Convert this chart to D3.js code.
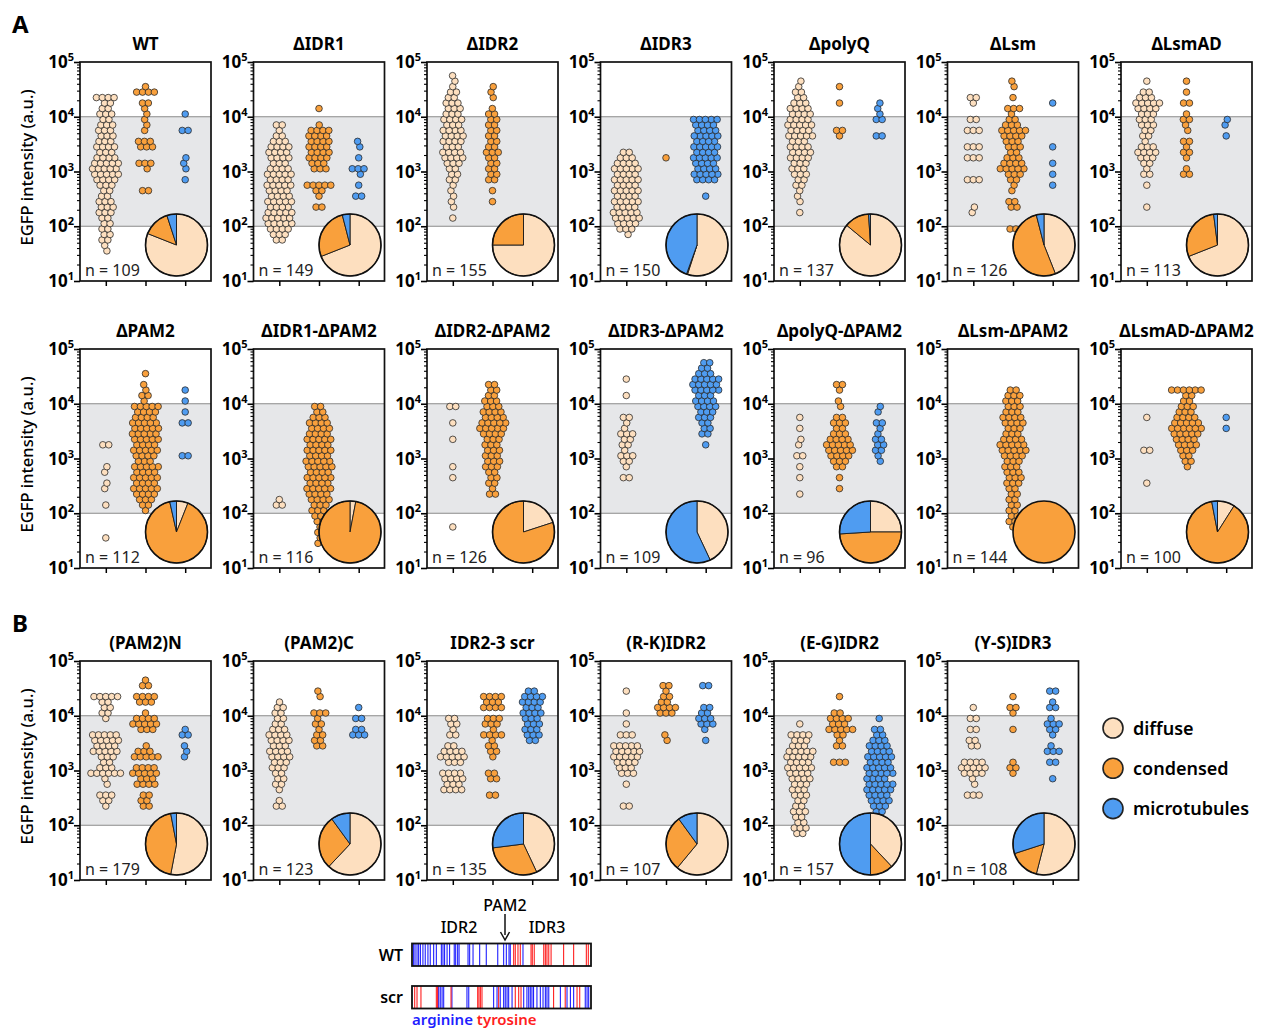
<!DOCTYPE html>
<html>
<head>
<meta charset="utf-8">
<script src="https://cdn.jsdelivr.net/npm/d3@7"></script>
<style>
  body { margin: 0; background: #fff; }
  svg { font-family: "Noto Sans", sans-serif; }
</style>
</head>
<body>
<div id="app"></div>
<script>
// ---- data ----
var panelTitles = ["WT", "ΔIDR1", "ΔIDR2", "ΔIDR3", "ΔpolyQ", "ΔLsm", "ΔLsmAD",
  "ΔPAM2", "ΔIDR1-ΔPAM2", "ΔIDR2-ΔPAM2", "ΔIDR3-ΔPAM2", "ΔpolyQ-ΔPAM2", "ΔLsm-ΔPAM2", "ΔLsmAD-ΔPAM2",
  "(PAM2)N", "(PAM2)C", "IDR2-3 scr", "(R-K)IDR2", "(E-G)IDR2", "(Y-S)IDR3"];
var panelN = [109, 149, 155, 150, 137, 126, 113, 112, 116, 126, 109, 96, 144, 100, 179, 123, 135, 107, 157, 108];

// pie fractions
var pieDiffuse   = [0.81, 0.69, 0.75, 0.55, 0.86, 0.44, 0.69, 0.06, 0.03, 0.20, 0.43, 0.25, 0, 0.09, 0.53, 0.62, 0.43, 0.61, 0.38, 0.54];
var pieCondensed = [0.14, 0.27, 0.25, 0.005, 0.13, 0.52, 0.29, 0.905, 0.97, 0.80, 0, 0.49, 1, 0.88, 0.44, 0.28, 0.30, 0.29, 0.12, 0.16];
var pieMicro     = [0.05, 0.04, 0, 0.445, 0.01, 0.04, 0.02, 0.035, 0, 0, 0.57, 0.26, 0, 0.03, 0.03, 0.10, 0.27, 0.10, 0.50, 0.30];

// dot counts per 0.1-decade bin, 10^1 -> 10^5, one group per decade
var dotsDiffuse = [
  "0000011222 2233322345 5543433332 3224000000",
  "0000000234 5554544545 4344432120 0000000000",
  "0000000000 0101111122 2344344434 3332211100",
  "0000000013 4554545454 5432000000 0000000000",
  "0000000000 0010111223 3344435454 4432211000",
  "0000000000 0011000030 0030300302 0012000000",
  "0000000000 0001000102 1234312233 3453201000",
  "0000010000 0100110110 0020000000 0000000000",
  "0000000000 0210000000 0000000000 0000000000",
  "0000000100 0000001010 0001001002 0000000000",
  "0000000000 0000002012 3122311200 0100100000",
  "0000000000 0001001010 2011010100 0000000000",
  "0000000000 0000000000 0000000000 0000000000",
  "0000000000 0000010000 0200000100 0000000000",
  "0000000000 0001230116 3235455001 2225000000",
  "0000000000 0002101222 3344344322 2210000000",
  "0000000000 0000004344 0354202122 0000000000",
  "0000000000 0002000103 3455503010 1000100000",
  "0000000023 2232233344 5455334010 0000000000",
  "0000000000 0000030114 5400220202 0100000000"
];
var dotsCondensed = [
  "0000000000 0000002000 1300330111 1120410000",
  "0000000000 0002012500 3344444410 0100000000",
  "0000000000 0000101022 2223222222 2101110000",
  "0000000000 0000000000 0010000000 0000000000",
  "0000000000 0000000000 0000001200 0010010000",
  "0000000002 0002201123 5432334532 1301011000",
  "0000000000 0000000002 1012120112 1020101000",
  "0000000000 1234545453 4545555445 1211010000",
  "0000111122 3344545455 4545444322 0000000000",
  "0000000000 0002122233 3333455443 3222000000",
  "0000000000 0000000000 0000000000 0000000000",
  "0000000000 0000101023 4554323201 1012000000",
  "0000000122 2222233333 4554334433 3320000000",
  "0000000000 0000000012 2344565433 2260000000",
  "0000000000 0002220435 4053100354 1034021000",
  "0000000000 0000000000 0000222121 3001100000",
  "0000000000 0000020022 0012214133 0434000000",
  "0000000000 0000000000 0000011000 3422120000",
  "0000000000 0000000000 0300212534 2001000000",
  "0000000000 0000000001 2100000100 1201000000"
];
var dotsMicro = [
  "0000000000 0000000010 1110000200 1000000000",
  "0000000000 0000020101 3010110000 0000000000",
  "0000000000 0000000000 0000000000 0000000000",
  "0000000000 0000010045 4454545445 0000000000",
  "0000000000 0000000000 0000002002 1110000000",
  "0000000000 0000000101 0100100000 0010000000",
  "0000000000 0000000000 0000001011 0000000000",
  "0000000000 0000000000 2000002010 1010000000",
  "0000000000 0000000000 0000000000 0000000000",
  "0000000000 0000000000 0000000000 0000000000",
  "0000000000 0000000000 0010222334 4355532200",
  "0000000000 0000000001 1222112011 0000000000",
  "0000000000 0000000000 0000000000 0000000000",
  "0000000000 0000000000 0000010100 0000000000",
  "0000000000 0000000000 0011102100 0000000000",
  "0000000000 0000000000 0000003202 0100000000",
  "0000000000 0000000000 0000023333 4344200000",
  "0000000000 0000000000 0000010133 2200020000",
  "0000000000 0023445545 5454432201 0000000000",
  "0000000000 0000000010 0203101231 0210200000"
];

var categories = ["diffuse", "condensed", "microtubules"];
var yTicks = [1e1, 1e2, 1e3, 1e4, 1e5];

// residue positions along the IDR2-3 stretch (% of bar length)
var wtArginine  = [0.9, 1.7, 2.8, 3.7, 4.7, 6.1, 7.4, 8.9, 10.2, 12.1, 13.6, 16.4, 17.3, 18.2, 19.6, 21.0, 23.6, 24.4, 25.5, 26.3, 31.3, 32.2, 34.1, 37.8, 41.5, 47.9, 51.2, 52.7, 54.2, 54.9, 62.0];
var wtTyrosine  = [56.8, 57.7, 59.2, 60.5, 66.5, 67.2, 68.3, 73.6, 74.5, 75.4, 76.4, 77.7, 84.7, 90.3, 97.4, 98.5];
var scrArginine = [14.9, 15.8, 16.8, 17.7, 22.3, 30.7, 31.7, 45.6, 47.5, 49.3, 51.2, 52.1, 53.1, 54.0, 55.9, 62.4, 64.2, 65.2, 66.1, 67.0, 67.9, 69.8, 71.7, 73.2, 74.5, 75.4, 76.4, 82.9, 86.6, 88.5, 90.3, 96.8, 97.8, 98.7];
var scrTyrosine = [1.5, 2.8, 5.0, 13.6, 14.3, 21.8, 36.7, 37.4, 38.2, 39.1, 48.4, 57.7, 59.6, 60.9, 79.1, 85.6, 92.2, 93.7];

// ---- layout ----
var width = 1261, height = 1030;
var colors = { diffuse: "#fddfbf", condensed: "#f9a03c", microtubules: "#4f9cf1" };
var rowTops = [62, 349, 661];
var panelW = 131, panelH = 219, panelX0 = 80, panelStep = 173.5;
var dotR = 3.3, pieR = 31;

var svg = d3.select("#app").append("svg")
  .attr("width", width)
  .attr("height", height);

svg.append("text").attr("x", 12).attr("y", 33)
  .style("font-size", "24px").style("font-weight", "bold").text("A");
svg.append("text").attr("x", 12).attr("y", 632)
  .style("font-size", "24px").style("font-weight", "bold").text("B");

// turn a bin string into a list of values
function binValues(str) {
  var counts = str.replace(/\s/g, "").split("").map(c => parseInt(c, 36));
  var out = [];
  counts.forEach((m, k) => {
    for (var j = 0; j < m; j++) out.push({ value: Math.pow(10, 1.05 + 0.1 * k), j: j, m: m });
  });
  return out;
}

var y = d3.scaleLog().domain([10, 1e5]).range([panelH, 0]);
var x = d3.scalePoint().domain(categories).range([0, panelW]).padding(0.65);

panelTitles.forEach((title, i) => {
  var row = i < 7 ? 0 : (i < 14 ? 1 : 2);
  var col = i - [0, 7, 14][row];
  var g = svg.append("g")
    .attr("transform", "translate(" + (panelX0 + col * panelStep) + "," + rowTops[row] + ")");

  // gray band between 10^2 and 10^4
  g.append("rect")
    .attr("x", 0).attr("y", y(1e4))
    .attr("width", panelW).attr("height", y(1e2) - y(1e4))
    .attr("fill", "#e6e7e9");
  [1e2, 1e4].forEach(v => {
    g.append("line")
      .attr("x1", 0).attr("x2", panelW)
      .attr("y1", y(v)).attr("y2", y(v))
      .attr("stroke", "#8a8a8a").attr("stroke-width", 1.2);
  });

  // dots, swarmed with a force simulation (neighbouring rows stagger)
  var nodes = [];
  [[dotsDiffuse, "diffuse"], [dotsCondensed, "condensed"], [dotsMicro, "microtubules"]].forEach(pair => {
    binValues(pair[0][i]).forEach(d => {
      nodes.push({
        cat: pair[1], value: d.value,
        x: x(pair[1]) + (d.j - (d.m - 1) / 2) * 0.6,
        y: y(d.value), fy: y(d.value)
      });
    });
  });
  var sim = d3.forceSimulation(nodes)
    .force("x", d3.forceX(d => x(d.cat)).strength(0.08))
    .force("collide", d3.forceCollide(2.95).iterations(2))
    .stop();
  for (var t = 0; t < 300; t++) sim.tick();

  g.selectAll(".dot")
    .data(nodes)
    .enter().append("circle")
    .attr("class", "dot")
    .attr("cx", d => d.x)
    .attr("cy", d => d.fy)
    .attr("r", dotR)
    .attr("fill", d => colors[d.cat])
    .attr("stroke", "#2a2a2a")
    .attr("stroke-width", 0.8);

  // pie
  var pieData = d3.pie().sort(null).value(d => d.v)(
    [{ k: "diffuse", v: pieDiffuse[i] }, { k: "condensed", v: pieCondensed[i] }, { k: "microtubules", v: pieMicro[i] }]
  ).filter(d => d.data.v > 0);
  var arc = d3.arc().innerRadius(0).outerRadius(pieR);
  var pg = g.append("g").attr("transform", "translate(" + (panelW - 34.5) + "," + (panelH - 36) + ")");
  pg.selectAll("path")
    .data(pieData)
    .enter().append("path")
    .attr("d", arc)
    .attr("fill", d => colors[d.data.k])
    .attr("stroke", "#1a1a1a")
    .attr("stroke-width", pieData.length > 1 ? 0.9 : 0);
  pg.append("circle").attr("r", pieR).attr("fill", "none")
    .attr("stroke", "#111").attr("stroke-width", 1.6);

  // n label
  g.append("text")
    .attr("x", 5).attr("y", panelH - 5)
    .style("font-size", "16px").attr("fill", "#222")
    .text("n = " + panelN[i]);

  // frame
  g.append("rect")
    .attr("width", panelW).attr("height", panelH)
    .attr("fill", "none").attr("stroke", "#111").attr("stroke-width", 1.7);

  // left axis: major + minor log ticks
  var minor = [];
  for (var e = 1; e < 5; e++) for (var m = 2; m < 10; m++) minor.push(m * Math.pow(10, e));
  g.append("g").call(d3.axisLeft(y).tickValues(minor).tickSize(3).tickFormat(""))
    .call(a => a.select(".domain").remove())
    .selectAll("line").attr("stroke-width", 1.1);
  g.append("g").call(d3.axisLeft(y).tickValues(yTicks).tickSize(6).tickFormat(""))
    .call(a => a.select(".domain").remove())
    .selectAll("line").attr("stroke-width", 1.6);

  var lab = g.selectAll(".ylab")
    .data(yTicks)
    .enter().append("text")
    .attr("class", "ylab")
    .attr("x", -6)
    .attr("y", d => y(d) + 6)
    .attr("text-anchor", "end")
    .style("font-size", "17px").style("font-weight", "bold");
  lab.append("tspan").text("10");
  lab.append("tspan").attr("dy", -7).style("font-size", "11px").text(d => Math.round(Math.log10(d)));

  // bottom ticks
  g.append("g")
    .attr("transform", "translate(0," + panelH + ")")
    .call(d3.axisBottom(x).tickSize(5).tickSizeOuter(0).tickFormat(""))
    .call(a => a.select(".domain").remove())
    .selectAll("line").attr("stroke-width", 1.5);

  // title
  g.append("text")
    .attr("x", panelW / 2).attr("y", -12)
    .attr("text-anchor", "middle")
    .style("font-size", "17px").style("font-weight", "bold")
    .text(title);

  if (col === 0) {
    g.append("text")
      .attr("transform", "translate(-47," + (panelH / 2 - 4) + ") rotate(-90)")
      .attr("text-anchor", "middle")
      .style("font-size", "16.5px").style("font-weight", 500)
      .text("EGFP intensity (a.u.)");
  }
});

// legend
var legend = svg.append("g").attr("transform", "translate(1113,728)");
categories.forEach((c, k) => {
  var lg = legend.append("g").attr("transform", "translate(0," + (k * 40.3) + ")");
  lg.append("circle").attr("r", 10).attr("fill", colors[c])
    .attr("stroke", "#222").attr("stroke-width", 1.6);
  lg.append("text").attr("x", 20).attr("y", 6.5)
    .style("font-size", "18px").style("font-weight", 600)
    .text(c);
});

// sequence bars
var barX = 412, barW = 179, barH = 22.5;
var pos = d3.scaleLinear().domain([0, 100]).range([barX, barX + barW]);
var bars = [
  { label: "WT", top: 943.5, arg: wtArginine, tyr: wtTyrosine },
  { label: "scr", top: 986, arg: scrArginine, tyr: scrTyrosine }
];
bars.forEach(b => {
  var bg = svg.append("g");
  bg.append("rect").attr("x", barX).attr("y", b.top).attr("width", barW).attr("height", barH).attr("fill", "#fff");
  bg.selectAll(".arg").data(b.arg).enter().append("line")
    .attr("x1", d => pos(d)).attr("x2", d => pos(d))
    .attr("y1", b.top).attr("y2", b.top + barH)
    .attr("stroke", "#1f1fff").attr("stroke-width", 1.1);
  bg.selectAll(".tyr").data(b.tyr).enter().append("line")
    .attr("x1", d => pos(d)).attr("x2", d => pos(d))
    .attr("y1", b.top).attr("y2", b.top + barH)
    .attr("stroke", "#ff2020").attr("stroke-width", 1.1);
  bg.append("rect").attr("x", barX).attr("y", b.top).attr("width", barW).attr("height", barH)
    .attr("fill", "none").attr("stroke", "#111").attr("stroke-width", 1.8);
  svg.append("text").attr("x", 403).attr("y", b.top + barH / 2 + 6)
    .attr("text-anchor", "end")
    .style("font-size", "16px").style("font-weight", 600)
    .text(b.label);
});
svg.append("text").attr("x", 459).attr("y", 933).attr("text-anchor", "middle")
  .style("font-size", "16px").style("font-weight", 500).text("IDR2");
svg.append("text").attr("x", 547).attr("y", 933).attr("text-anchor", "middle")
  .style("font-size", "16px").style("font-weight", 500).text("IDR3");
svg.append("text").attr("x", 505).attr("y", 911).attr("text-anchor", "middle")
  .style("font-size", "16px").style("font-weight", 500).text("PAM2");
svg.append("line").attr("x1", 505).attr("x2", 505).attr("y1", 914).attr("y2", 935)
  .attr("stroke", "#111").attr("stroke-width", 1.5);
svg.append("path").attr("d", "M500.5,932 L505,940 L509.5,932").attr("fill", "none")
  .attr("stroke", "#111").attr("stroke-width", 1.5);

var key = svg.append("text").attr("x", barX).attr("y", 1025)
  .style("font-size", "15px").style("font-weight", 600);
key.append("tspan").attr("fill", "#1f1fff").text("arginine ");
key.append("tspan").attr("fill", "#ff2020").text("tyrosine");
</script>
</body>
</html>
